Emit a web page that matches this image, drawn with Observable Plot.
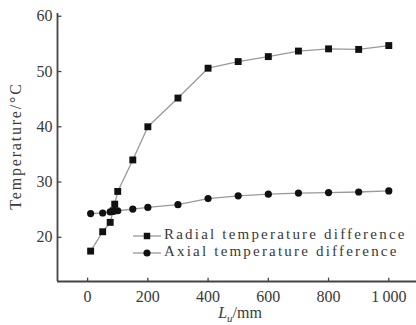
<!DOCTYPE html>
<html>
<head>
<meta charset="utf-8">
<script src="https://cdn.jsdelivr.net/npm/d3@7"></script>
<script src="https://cdn.jsdelivr.net/npm/@observablehq/plot@0.6"></script>
<style>
  html, body { margin: 0; padding: 0; background: #fff; }
  svg { display: block; }
</style>
</head>
<body>
<div id="chart"></div>
<script>
const radialX = [10, 50, 75, 85, 90, 100, 150, 200, 300, 400, 500, 600, 700, 800, 900, 1000];
const radialY = [17.5, 21.0, 22.7, 24.8, 26.0, 28.3, 34.0, 40.0, 45.2, 50.6, 51.8, 52.7, 53.7, 54.1, 54.0, 54.7];
const axialX = [10, 50, 75, 85, 90, 100, 150, 200, 300, 400, 500, 600, 700, 800, 900, 1000];
const axialY = [24.3, 24.4, 24.6, 24.7, 24.8, 24.8, 25.1, 25.4, 25.9, 27.0, 27.5, 27.8, 28.0, 28.1, 28.2, 28.4];
const xTicks = [0, 200, 400, 600, 800, 1000];
const xTickLabels = ["0", "200", "400", "600", "800", "1\u2009000"];
const yTicks = [20, 30, 40, 50, 60];
const seriesNames = ["Radial temperature difference", "Axial temperature difference"];

const radial = radialX.map((x, i) => ({x, y: radialY[i]}));
const axial = axialX.map((x, i) => ({x, y: axialY[i]}));

const xDomain = [-100, 1092];
const yDomain = [12, 60.5];
const font = "Liberation Serif, Times New Roman, serif";
const ink = "#3a3a3a";

const plot = Plot.plot({
  width: 416,
  height: 325,
  marginLeft: 57,
  marginRight: 0,
  marginTop: 13,
  marginBottom: 44,
  style: {fontFamily: font, fontSize: "16px", color: ink, background: "#fff"},
  x: {domain: xDomain},
  y: {domain: yDomain},
  marks: [
    Plot.axisX(xTicks, {tickSize: 0, tickPadding: 9, tickFormat: d => xTickLabels[xTicks.indexOf(d)], fontSize: 16, fill: ink, label: null}),
    Plot.axisY(yTicks, {tickSize: 0, tickPadding: 5, fontSize: 16, fill: ink, label: null}),
    Plot.link(xTicks, {x1: d => d, x2: d => d, y1: () => yDomain[0], y2: () => yDomain[0] + 0.7, stroke: "#444", strokeWidth: 1.3}),
    Plot.link(yTicks, {y1: d => d, y2: d => d, x1: () => xDomain[0], x2: () => xDomain[0] + 13, stroke: "#444", strokeWidth: 1.3}),
    Plot.ruleX([xDomain[0]], {y1: yDomain[0], y2: yDomain[1], stroke: "#444", strokeWidth: 1.8}),
    Plot.ruleY([yDomain[0]], {x1: xDomain[0], x2: xDomain[1], stroke: "#444", strokeWidth: 1.8}),
    Plot.line(radial, {x: "x", y: "y", stroke: "#999", strokeWidth: 1.3}),
    Plot.line(axial, {x: "x", y: "y", stroke: "#999", strokeWidth: 1.3}),
    Plot.dot(radial, {x: "x", y: "y", symbol: "square", r: 3.9, fill: "#111", stroke: "none"}),
    Plot.dot(axial, {x: "x", y: "y", symbol: "circle", r: 3.6, fill: "#111", stroke: "none"})
  ]
});

const svg = d3.select(plot);

// Y-axis title
svg.append("text")
  .attr("transform", "translate(17,146) rotate(-90)")
  .attr("text-anchor", "middle")
  .attr("dominant-baseline", "middle")
  .attr("font-family", font)
  .attr("font-size", 16)
  .attr("letter-spacing", 1.8)
  .attr("fill", ink)
  .text("Temperature/\u00B0C");

// X-axis title with italic L and subscript u
const xt = svg.append("text")
  .attr("x", 240)
  .attr("y", 318)
  .attr("text-anchor", "middle")
  .attr("font-family", font)
  .attr("font-size", 16)
  .attr("fill", ink);
xt.append("tspan").attr("font-style", "italic").text("L");
xt.append("tspan").attr("font-size", 11).attr("dy", 4).attr("font-style", "italic").text("u");
xt.append("tspan").attr("dy", -4).text("/mm");

// Legend
const legendRows = [
  {name: seriesNames[0], symbol: d3.symbolSquare, size: 42, y: 236},
  {name: seriesNames[1], symbol: d3.symbolCircle, size: 40, y: 253}
];
for (const row of legendRows) {
  const g = svg.append("g");
  g.append("line").attr("x1", 133).attr("x2", 161).attr("y1", row.y).attr("y2", row.y)
    .attr("stroke", "#999").attr("stroke-width", 1.3);
  g.append("path").attr("d", d3.symbol(row.symbol, row.size)()).attr("transform", `translate(147,${row.y})`)
    .attr("fill", "#111");
  g.append("text").attr("x", 164).attr("y", row.y).attr("dominant-baseline", "middle")
    .attr("text-anchor", "start")
    .attr("font-family", font).attr("font-size", 15).attr("letter-spacing", 2.2).attr("fill", ink)
    .text(row.name);
}

document.getElementById("chart").appendChild(plot);
</script>
</body>
</html>
